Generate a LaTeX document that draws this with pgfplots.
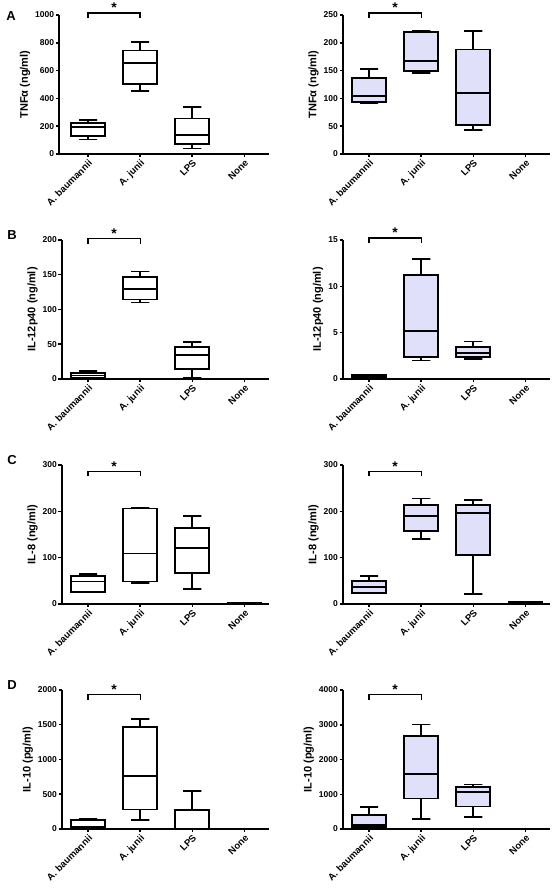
\documentclass[border=0pt]{standalone}
\usepackage{fontspec}
\setmainfont{Liberation Sans}
\usepackage{pgfplots}
\pgfplotsset{compat=1.18}
\definecolor{lav}{RGB}{224,224,250}
\pgfplotsset{
  panel/.style={
    scale only axis, width=207.4pt, height=139pt,
    xmin=-0.5, xmax=3.48, ymin=0,
    axis x line*=bottom, axis y line*=left,
    axis line style={line width=2pt, -},
    xtick={0,1,2,3},
    xticklabels={A. baumannii, A. junii, LPS, None},
    tick align=outside, major tick length=3.5pt,
    tick style={line width=1.5pt, black},
    x tick label style={rotate=45, anchor=north east, font=\bfseries\fontsize{9.5}{10}\selectfont, inner sep=1pt},
    y tick label style={font=\bfseries\fontsize{8.5}{10}\selectfont, inner sep=1.5pt},
    /pgf/number format/assume math mode=true,
    /pgf/number format/1000 sep={},
    ylabel style={font=\bfseries\fontsize{11}{12}\selectfont},
    clip=false,
    anchor=south west,
  },
  bl/.style={draw=black, line width=1.8pt, solid, mark=none},
}
\newcommand{\sig}[1]{%
  \draw[line width=1.3pt] ([yshift=-5pt]axis cs:0,#1) -- (axis cs:0,#1) -- (axis cs:1,#1) -- ([yshift=-5pt]axis cs:1,#1);
  \node[font=\bfseries\fontsize{14}{14}\selectfont, above, inner sep=0pt] at (axis cs:0.5,#1) {*};}
\begin{document}
\begin{tikzpicture}
\useasboundingbox (0pt,0pt) rectangle (557pt,893pt);
\node[font=\bfseries\fontsize{13}{14}\selectfont] at (11pt,877pt) {A};
\node[font=\bfseries\fontsize{13}{14}\selectfont] at (12pt,658pt) {B};
\node[font=\bfseries\fontsize{13}{14}\selectfont] at (12pt,433pt) {C};
\node[font=\bfseries\fontsize{13}{14}\selectfont] at (12pt,208pt) {D};
% ================= A left
\begin{axis}[panel, at={(59.3pt,739pt)}, width=210pt, xmin=-0.55, ymax=1000, ytick={0,200,...,1000}, ylabel={TNFα (ng/ml)}]
\addplot[bl] coordinates {(-0.175,243)(0.175,243)(0,243)(0,224)};
\addplot[bl] coordinates {(-0.175,104)(0.175,104)(0,104)(0,128)};
\addplot[bl,fill=white] coordinates {(-0.325,128)(0.325,128)(0.325,224)(-0.325,224)} --cycle;
\addplot[bl] coordinates {(-0.325,195)(0.325,195)};
\addplot[bl] coordinates {(0.825,805)(1.175,805)(1,805)(1,745)};
\addplot[bl] coordinates {(0.825,455)(1.175,455)(1,455)(1,506)};
\addplot[bl,fill=white] coordinates {(0.675,506)(1.325,506)(1.325,745)(0.675,745)} --cycle;
\addplot[bl] coordinates {(0.675,653)(1.325,653)};
\addplot[bl] coordinates {(1.825,337)(2.175,337)(2,337)(2,255)};
\addplot[bl] coordinates {(1.825,39)(2.175,39)(2,39)(2,70)};
\addplot[bl,fill=white] coordinates {(1.675,70)(2.325,70)(2.325,255)(1.675,255)} --cycle;
\addplot[bl] coordinates {(1.675,137)(2.325,137)};
\sig{1014}
\end{axis}
% ================= A right
\begin{axis}[panel, at={(343pt,739pt)}, ymax=250, ytick={0,50,...,250}, ylabel={TNFα (ng/ml)}]
\addplot[bl] coordinates {(-0.175,153)(0.175,153)(0,153)(0,137)};
\addplot[bl] coordinates {(-0.175,92)(0.175,92)(0,92)(0,94)};
\addplot[bl,fill=lav] coordinates {(-0.325,94)(0.325,94)(0.325,137)(-0.325,137)} --cycle;
\addplot[bl] coordinates {(-0.325,105)(0.325,105)};
\addplot[bl] coordinates {(0.825,222)(1.175,222)(1,222)(1,219)};
\addplot[bl] coordinates {(0.825,145)(1.175,145)(1,145)(1,149)};
\addplot[bl,fill=lav] coordinates {(0.675,149)(1.325,149)(1.325,219)(0.675,219)} --cycle;
\addplot[bl] coordinates {(0.675,167)(1.325,167)};
\addplot[bl] coordinates {(1.825,221)(2.175,221)(2,221)(2,188)};
\addplot[bl] coordinates {(1.825,43)(2.175,43)(2,43)(2,52)};
\addplot[bl,fill=lav] coordinates {(1.675,52)(2.325,52)(2.325,188)(1.675,188)} --cycle;
\addplot[bl] coordinates {(1.675,109)(2.325,109)};
\sig{253.5}
\end{axis}
% ================= B left
\begin{axis}[panel, at={(62pt,514pt)}, ymax=200, ytick={0,50,...,200}, ylabel={IL-12p40 (ng/ml)}]
\addplot[bl] coordinates {(-0.175,11)(0.175,11)(0,11)(0,9)};
\addplot[bl] coordinates {(-0.175,1)(0.175,1)(0,1)(0,2)};
\addplot[bl,fill=white] coordinates {(-0.325,2)(0.325,2)(0.325,9)(-0.325,9)} --cycle;
\addplot[bl] coordinates {(-0.325,5)(0.325,5)};
\addplot[bl] coordinates {(0.825,154.6)(1.175,154.6)(1,154.6)(1,147)};
\addplot[bl] coordinates {(0.825,110)(1.175,110)(1,110)(1,114.5)};
\addplot[bl,fill=white] coordinates {(0.675,114.5)(1.325,114.5)(1.325,147)(0.675,147)} --cycle;
\addplot[bl] coordinates {(0.675,129)(1.325,129)};
\addplot[bl] coordinates {(1.825,53)(2.175,53)(2,53)(2,46)};
\addplot[bl] coordinates {(1.825,1.5)(2.175,1.5)(2,1.5)(2,14.5)};
\addplot[bl,fill=white] coordinates {(1.675,14.5)(2.325,14.5)(2.325,46)(1.675,46)} --cycle;
\addplot[bl] coordinates {(1.675,34)(2.325,34)};
\sig{202}
\end{axis}
% ================= B right
\begin{axis}[panel, at={(343pt,514pt)}, ymax=15, ytick={0,5,10,15}, ylabel={IL-12p40 (ng/ml)}]
\addplot[bl] coordinates {(-0.175,0.45)(0.175,0.45)(0,0.45)(0,0.4)};
\addplot[bl] coordinates {(-0.175,0.05)(0.175,0.05)(0,0.05)(0,0.1)};
\addplot[bl,fill=lav] coordinates {(-0.325,0.1)(0.325,0.1)(0.325,0.4)(-0.325,0.4)} --cycle;
\addplot[bl] coordinates {(-0.325,0.3)(0.325,0.3)};
\addplot[bl] coordinates {(0.825,12.96)(1.175,12.96)(1,12.96)(1,11.2)};
\addplot[bl] coordinates {(0.825,2.0)(1.175,2.0)(1,2.0)(1,2.35)};
\addplot[bl,fill=lav] coordinates {(0.675,2.35)(1.325,2.35)(1.325,11.2)(0.675,11.2)} --cycle;
\addplot[bl] coordinates {(0.675,5.2)(1.325,5.2)};
\addplot[bl] coordinates {(1.825,4.04)(2.175,4.04)(2,4.04)(2,3.43)};
\addplot[bl] coordinates {(1.825,2.13)(2.175,2.13)(2,2.13)(2,2.38)};
\addplot[bl,fill=lav] coordinates {(1.675,2.38)(2.325,2.38)(2.325,3.43)(1.675,3.43)} --cycle;
\addplot[bl] coordinates {(1.675,2.78)(2.325,2.78)};
\sig{15.2}
\end{axis}
% ================= C left
\begin{axis}[panel, at={(62pt,289pt)}, ymax=300, ytick={0,100,200,300}, ylabel={IL-8 (ng/ml)}]
\addplot[bl] coordinates {(-0.175,65)(0.175,65)(0,65)(0,60)};
\addplot[bl] coordinates {(-0.175,25)(0.175,25)(0,25)(0,26)};
\addplot[bl,fill=white] coordinates {(-0.325,26)(0.325,26)(0.325,60)(-0.325,60)} --cycle;
\addplot[bl] coordinates {(-0.325,48.5)(0.325,48.5)};
\addplot[bl] coordinates {(0.825,207)(1.175,207)(1,207)(1,206)};
\addplot[bl] coordinates {(0.825,46)(1.175,46)(1,46)(1,48.5)};
\addplot[bl,fill=white] coordinates {(0.675,48.5)(1.325,48.5)(1.325,206)(0.675,206)} --cycle;
\addplot[bl] coordinates {(0.675,109)(1.325,109)};
\addplot[bl] coordinates {(1.825,190)(2.175,190)(2,190)(2,164.5)};
\addplot[bl] coordinates {(1.825,32.6)(2.175,32.6)(2,32.6)(2,66.7)};
\addplot[bl,fill=white] coordinates {(1.675,66.7)(2.325,66.7)(2.325,164.5)(1.675,164.5)} --cycle;
\addplot[bl] coordinates {(1.675,120)(2.325,120)};
\addplot[bl] coordinates {(2.825,2)(3.175,2)(3,2)(3,1.5)};
\addplot[bl,fill=white] coordinates {(2.675,1)(3.325,1)(3.325,1.5)(2.675,1.5)} --cycle;
\sig{286}
\end{axis}
% ================= C right
\begin{axis}[panel, at={(343pt,289pt)}, ymax=300, ytick={0,100,200,300}, ylabel={IL-8 (ng/ml)}]
\addplot[bl] coordinates {(-0.175,60)(0.175,60)(0,60)(0,50)};
\addplot[bl] coordinates {(-0.175,22.5)(0.175,22.5)(0,22.5)(0,24)};
\addplot[bl,fill=lav] coordinates {(-0.325,24)(0.325,24)(0.325,50)(-0.325,50)} --cycle;
\addplot[bl] coordinates {(-0.325,37)(0.325,37)};
\addplot[bl] coordinates {(0.825,227.5)(1.175,227.5)(1,227.5)(1,213)};
\addplot[bl] coordinates {(0.825,140)(1.175,140)(1,140)(1,157)};
\addplot[bl,fill=lav] coordinates {(0.675,157)(1.325,157)(1.325,213)(0.675,213)} --cycle;
\addplot[bl] coordinates {(0.675,190.6)(1.325,190.6)};
\addplot[bl] coordinates {(1.825,225)(2.175,225)(2,225)(2,213)};
\addplot[bl] coordinates {(1.825,21.7)(2.175,21.7)(2,21.7)(2,105)};
\addplot[bl,fill=lav] coordinates {(1.675,105)(2.325,105)(2.325,213)(1.675,213)} --cycle;
\addplot[bl] coordinates {(1.675,195.6)(2.325,195.6)};
\addplot[bl] coordinates {(2.825,5.5)(3.175,5.5)(3,5.5)(3,4.5)};
\addplot[bl] coordinates {(2.825,2)(3.175,2)(3,2)(3,2.5)};
\addplot[bl,fill=lav] coordinates {(2.675,2.5)(3.325,2.5)(3.325,4.5)(2.675,4.5)} --cycle;
\sig{286}
\end{axis}
% ================= D left
\begin{axis}[panel, at={(62pt,64pt)}, ymax=2000, ytick={0,500,...,2000}, ylabel={IL-10 (pg/ml)}]
\addplot[bl] coordinates {(-0.175,149)(0.175,149)(0,149)(0,125)};
\addplot[bl] coordinates {(-0.175,5)(0.175,5)(0,5)(0,14)};
\addplot[bl,fill=white] coordinates {(-0.325,14)(0.325,14)(0.325,125)(-0.325,125)} --cycle;
\addplot[bl] coordinates {(-0.325,29)(0.325,29)};
\addplot[bl] coordinates {(0.825,1585)(1.175,1585)(1,1585)(1,1470)};
\addplot[bl] coordinates {(0.825,125)(1.175,125)(1,125)(1,280)};
\addplot[bl,fill=white] coordinates {(0.675,280)(1.325,280)(1.325,1470)(0.675,1470)} --cycle;
\addplot[bl] coordinates {(0.675,757)(1.325,757)};
\addplot[bl] coordinates {(1.825,545)(2.175,545)(2,545)(2,270)};
\addplot[bl,fill=white] coordinates {(1.675,0)(2.325,0)(2.325,270)(1.675,270)} --cycle;
\sig{1932}
\end{axis}
% ================= D right
\begin{axis}[panel, at={(343pt,64pt)}, ymax=4000, ytick={0,1000,...,4000}, ylabel={IL-10 (pg/ml)}]
\addplot[bl] coordinates {(-0.175,626)(0.175,626)(0,626)(0,414)};
\addplot[bl] coordinates {(-0.175,29)(0.175,29)(0,29)(0,48)};
\addplot[bl,fill=lav] coordinates {(-0.325,48)(0.325,48)(0.325,414)(-0.325,414)} --cycle;
\addplot[bl] coordinates {(-0.325,106)(0.325,106)};
\addplot[bl] coordinates {(0.825,3007)(1.175,3007)(1,3007)(1,2680)};
\addplot[bl] coordinates {(0.825,280)(1.175,280)(1,280)(1,877)};
\addplot[bl,fill=lav] coordinates {(0.675,877)(1.325,877)(1.325,2680)(0.675,2680)} --cycle;
\addplot[bl] coordinates {(0.675,1581)(1.325,1581)};
\addplot[bl] coordinates {(1.825,1282)(2.175,1282)(2,1282)(2,1205)};
\addplot[bl] coordinates {(1.825,337)(2.175,337)(2,337)(2,646)};
\addplot[bl,fill=lav] coordinates {(1.675,646)(2.325,646)(2.325,1205)(1.675,1205)} --cycle;
\addplot[bl] coordinates {(1.675,1070)(2.325,1070)};
\sig{3865}
\end{axis}
\end{tikzpicture}
\end{document}
